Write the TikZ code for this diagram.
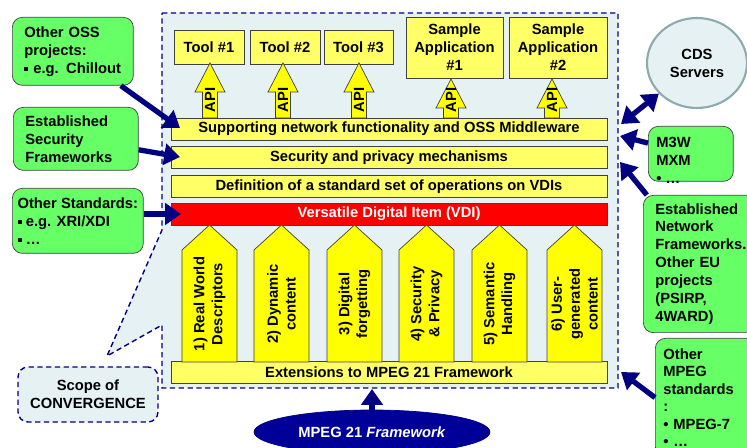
\documentclass[tikz,border=0pt]{standalone}
\usepackage{fontspec}
\setmainfont{Liberation Sans}
\usetikzlibrary{arrows.meta,shapes.geometric}

\definecolor{paleyellow}{HTML}{FFFF66}
\definecolor{brightyellow}{HTML}{FFFF00}
\definecolor{vdired}{HTML}{FF0000}
\definecolor{greenfill}{HTML}{66FF66}
\definecolor{scopefill}{HTML}{E6F1F3}
\definecolor{navyblue}{HTML}{000080}
\definecolor{ellfill}{HTML}{000099}
\definecolor{cdsline}{HTML}{8DAAAD}
\definecolor{edge}{HTML}{404040}

\newcommand{\sqbullet}{\raisebox{0.15em}{\rule{0.28em}{0.28em}}}
\hyphenpenalty=10000
\exhyphenpenalty=10000

\tikzset{
  lbl/.style={font=\fontsize{8.4}{10.2}\selectfont\bfseries},
  ybox/.style={lbl, draw=edge, fill=paleyellow, align=center, inner sep=0pt},
  layer/.style={ybox, minimum width=8.72cm, minimum height=0.44cm},
  greenbox/.style={lbl, draw=edge, fill=greenfill, rounded corners=0.2cm, align=left,
    inner xsep=0.24cm, inner ysep=0.16cm, anchor=north west},
  scopeline/.style={draw=navyblue, dash pattern=on 3pt off 2pt, line width=0.8pt},
  bigarrow/.style={draw=navyblue, line width=3pt, -{Triangle[length=9pt,width=12pt]}},
  apiarrow/.style={draw=edge, fill=brightyellow},
  pillar/.style={draw=edge, fill=brightyellow},
}

\begin{document}
\begin{tikzpicture}[x=0.02cm, y=-0.02cm]
\clip (0,0) rectangle (747,448);

% Scope of convergence, callout shape
\draw[scopeline, fill=scopefill]
  (162,13) -- (618,13) -- (618,388) -- (162,388) -- (162,325) -- (107,356) -- (162,230) -- cycle;
\node[lbl, scopeline, fill=scopefill, rounded corners=0.2cm, align=center,
  minimum width=2.8cm, minimum height=1.1cm] (scope) at (88,394.5) {Scope of\\CONVERGENCE};

% Tools and sample applications
\node[ybox, minimum width=1.4cm, minimum height=0.68cm] (tool1) at (209,47) {Tool \#1};
\node[ybox, minimum width=1.4cm, minimum height=0.68cm] (tool2) at (285,47) {Tool \#2};
\node[ybox, minimum width=1.38cm, minimum height=0.68cm] (tool3) at (358.5,47) {Tool \#3};
\node[ybox, minimum width=1.94cm, minimum height=1.22cm] (app1) at (454.5,47.5) {Sample\\Application\\\#1};
\node[ybox, minimum width=1.96cm, minimum height=1.22cm] (app2) at (558,47.5) {Sample\\Application\\\#2};

% API arrows
\foreach \cx/\tip in {210/63, 283/63, 359/63, 451/79, 552/79}{
  \draw[apiarrow] (\cx,\tip) -- (\cx+15,\tip+29) -- (\cx+7.5,\tip+29) -- (\cx+7.5,118)
    -- (\cx-7.5,118) -- (\cx-7.5,\tip+29) -- (\cx-15,\tip+29) -- cycle;
  \node[lbl, rotate=90, inner sep=0pt] (api\cx) at (\cx,100) {API};
}

% Layers
\node[layer] (support) at (389,129) {Supporting network functionality and OSS Middleware};
\node[layer] (security) at (389,157.5) {Security and privacy mechanisms};
\node[layer] (operations) at (389,186.5) {Definition of a standard set of operations on VDIs};
\node[layer, fill=vdired, text=white] (vdi) at (389,214) {Versatile Digital Item (VDI)};
\node[layer] (ext) at (389,372.5) {Extensions to MPEG 21 Framework};

% Pillars
\foreach \x/\txt [count=\i] in {182/{1) Real World\\Descriptors}, 254/{2) Dynamic\\content},
    327/{3) Digital\\forgetting}, 399/{4) Security\\\& Privacy}, 472/{5) Semantic\\Handling},
    547/{6) User-\\generated\\content}}{
  \draw[pillar] (\x,362) -- (\x,250) -- (\x+27.5,225) -- (\x+55,250) -- (\x+55,362) -- cycle;
  \node[lbl, rotate=90, align=center] (pillar\i) at (\x+27.5,304) {\txt};
}

% Left boxes
\node[greenbox, text width=1.94cm, minimum height=1.36cm] (oss) at (12,17)
  {Other OSS\\projects:\\\sqbullet\ e.g. Chillout};
\node[greenbox, text width=2.02cm, minimum height=1.26cm] (secfw) at (13,107)
  {Established\\Security\\Frameworks};
\node[greenbox, inner xsep=0.08cm, minimum width=2.62cm, minimum height=1.3cm] (stds) at (12,188)
  {Other Standards:\\\sqbullet\ e.g. XRI/XDI\\\sqbullet\ \dots};

% Right side
\node[lbl, ellipse, draw=cdsline, line width=1.2pt, fill=scopefill, align=center,
  minimum width=2cm, minimum height=1.8cm] (cds) at (697,63) {CDS\\Servers};
\node[greenbox, text width=1.22cm, minimum height=1.1cm] (m3w) at (648,126) {};
\node[lbl, align=left, inner sep=0pt, anchor=north west] (m3wtext) at (656,137)
  {M3W\\MXM\\\textbullet\ \dots};
\node[greenbox, text width=1.9cm, minimum height=2.7cm] (netfw) at (643,195)
  {Established\\Network\\Frameworks.\\Other EU\\projects\\(PSIRP,\\4WARD)};
\node[greenbox, font=\fontsize{8.4}{10}\selectfont\bfseries, text width=1.7cm,
  inner xsep=0.16cm, inner ysep=0.2cm] (mpegstd) at (655,338)
  {Other\\MPEG\\standards\\:\\\textbullet\ MPEG-7\\\textbullet\ \dots};

% MPEG 21 framework
\node[lbl, ellipse, draw=navyblue, fill=ellfill, text=white,
  minimum width=4.72cm, minimum height=0.88cm] (mpeg21) at (372,432) {MPEG 21 \textit{Framework}};

% Connectors
\coordinate (ossin) at (180,128);
\coordinate (secin) at (180,157);
\coordinate (stdin) at (181,214);
\coordinate (cdsin) at (621,124);
\coordinate (m3win) at (620,136);
\coordinate (netin) at (620,162);
\coordinate (mpegin) at (621,372);
\coordinate (frmin) at (372,389);

\draw[bigarrow] (oss) -- (ossin);
\draw[bigarrow] (secfw) -- (secin);
\draw[bigarrow] (stds.east |- stdin) -- (stdin);
\draw[bigarrow, {Triangle[length=9pt,width=12pt]}-{Triangle[length=9pt,width=12pt]}] (cds) -- (cdsin);
\draw[bigarrow] (m3w) -- (m3win);
\draw[bigarrow] (netfw) -- (netin);
\draw[bigarrow] (mpegstd.west) -- (mpegin);
\draw[bigarrow] (mpeg21) -- (frmin);

\end{tikzpicture}
\end{document}
